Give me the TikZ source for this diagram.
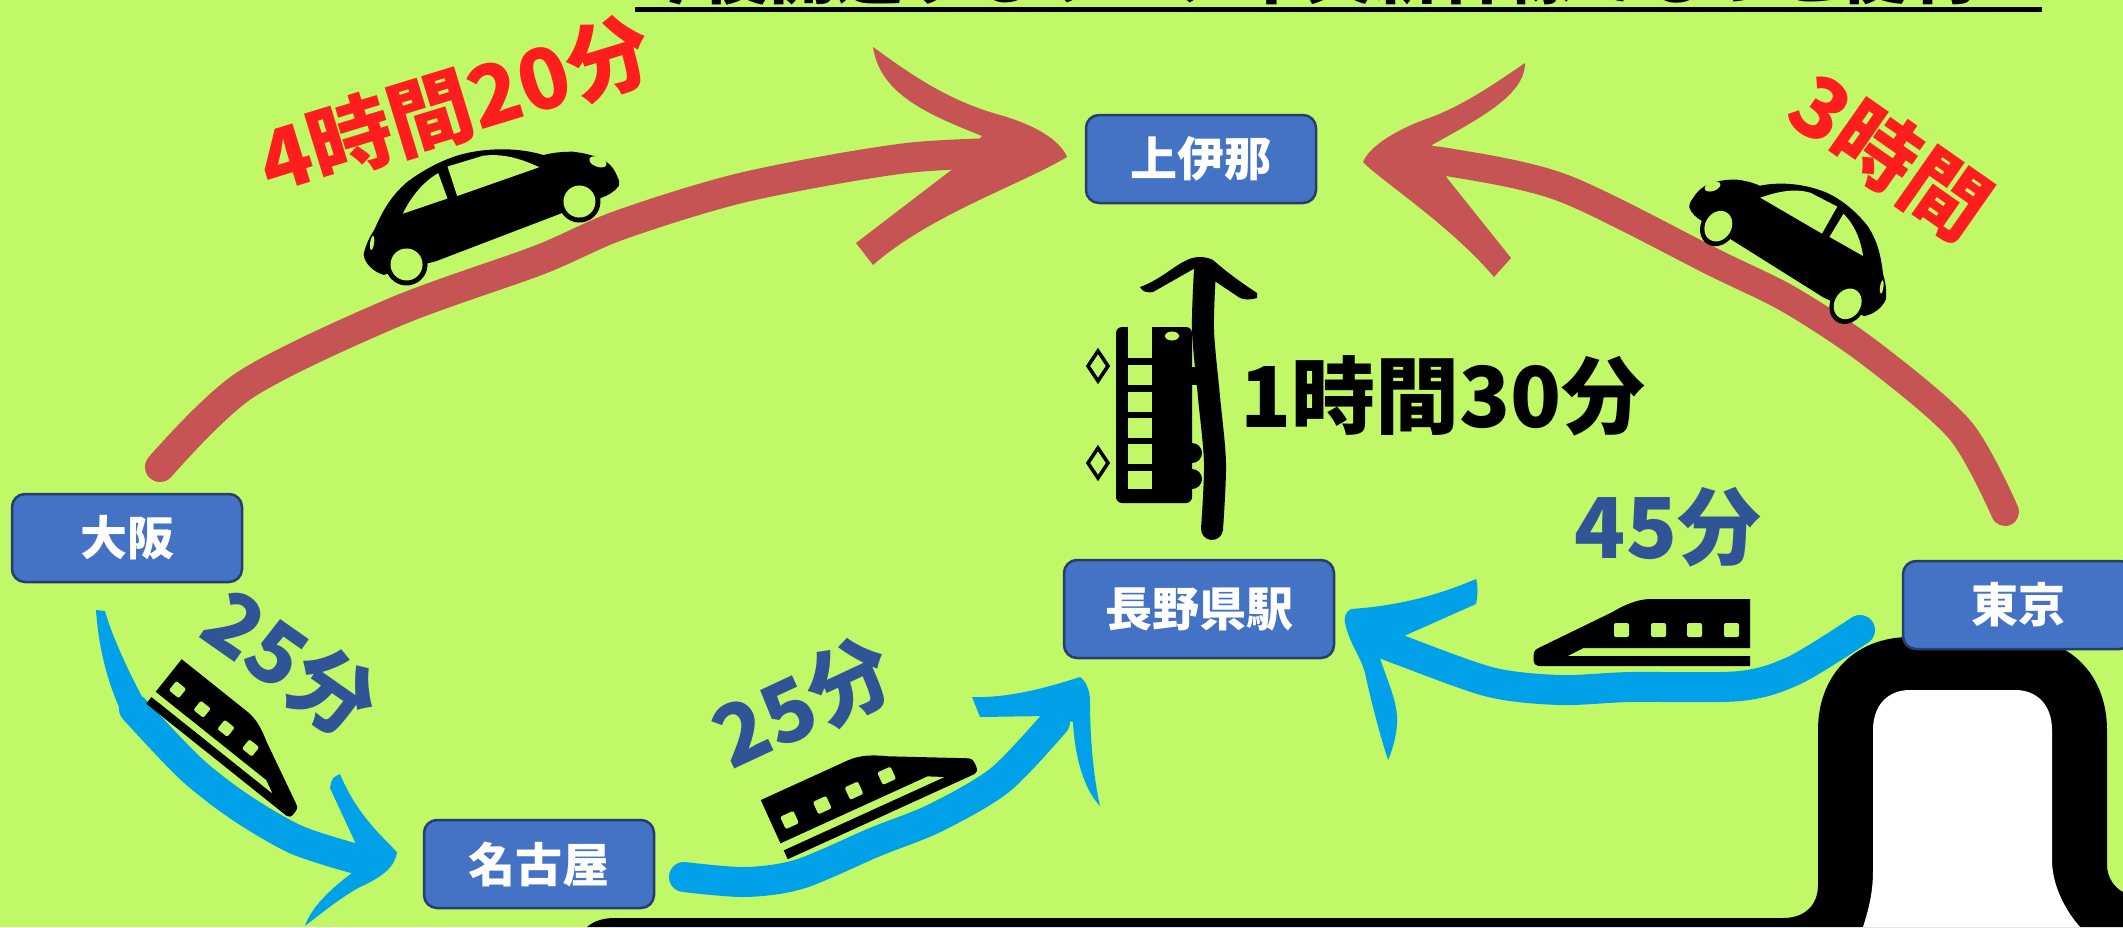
\documentclass[tikz,border=0pt]{standalone}
\usepackage{fontspec}
\setmainfont{Noto Sans CJK JP}
\definecolor{bgcol}{RGB}{193,248,103}
\definecolor{rcol}{RGB}{198,84,84}
\definecolor{bcol}{RGB}{0,161,233}
\definecolor{redtext}{RGB}{255,30,30}
\definecolor{bluetext}{RGB}{47,85,151}
\definecolor{boxfill}{RGB}{68,114,196}
\definecolor{boxline}{RGB}{38,62,110}
\tikzset{every picture/.style={x=1pt,y=-1pt}}
\tikzset{station/.style={rectangle,rounded corners=13,draw=boxline,fill=boxfill,line width=2.5,text=white,inner sep=0,minimum width=230,minimum height=88,font=\fontsize{47}{47}\selectfont\bfseries}}
\tikzset{annot/.style={inner sep=0,font=\fontsize{84}{84}\selectfont\bfseries}}
\tikzset{redline/.style={rcol,line width=30,line cap=round,line join=round}}
\tikzset{blueline/.style={bcol,line width=30,line cap=round,line join=round}}
\tikzset{pics/car/.style={code={
\begin{scope}[y=1pt]
\fill [black] (-117,-2) .. controls (-125,4) and (-131,14) .. (-129,24) .. controls (-124,32) and (-118,38) .. (-110,44)
  .. controls (-95,60) and (-82,70) .. (-64,77) .. controls (-48,82) and (-30,85) .. (-15,85) .. controls (5,86) and (45,78) .. (74,56)
  .. controls (85,55) and (95,52) .. (103,49) .. controls (115,43) and (125,36) .. (131,28) .. controls (135,22) and (136,16) .. (136,12)
  .. controls (137,7) and (136,3) .. (134,1) .. controls (128,-3) and (120,-4) .. (114,-4) -- (62,-5) -- (-63,-7) -- cycle;
\fill [black] (-92,0) circle (21);
\fill [black] (92,0) circle (21);
\fill [bgcol] (-92,0) circle (16);
\fill [bgcol] (92,0) circle (16);
\fill [bgcol] (-78,49) .. controls (-65,62) and (-48,72) .. (-31,75) -- (-31,48) -- cycle;
\fill [bgcol] (-20,78) -- (-21,47) -- (66,46) .. controls (50,62) and (35,72) .. (17,76) -- cycle;
\fill [bgcol,rotate around={-40:(123,31)}] (123,31) ellipse (9 and 5);
\fill [bgcol,rotate around={62:(-117,32)}] (-117,32) ellipse (7 and 2);
\end{scope}
}}}
\tikzset{pics/bullet/.style={code={
\begin{scope}[y=1pt]
\fill [black] (108.5,33.5) -- (10,33.5) .. controls (-5,33.5) and (-18,27) .. (-30,20) -- (-103,-15.5) .. controls (-108,-18) and (-108,-20) .. (-108,-27)
  .. controls (-108,-31) and (-106,-33.5) .. (-103,-33.5) -- (108.5,-33.5) -- (108.5,-23.5) -- (-74,-23.5) -- (-58,-15.5) -- (108.5,-15.5) -- cycle;
\fill [bgcol,rounded corners=2] (-27.5,9.5) rectangle (-12.5,-4.5);
\fill [bgcol,rounded corners=2] (9.5,9.5) rectangle (24.5,-4.5);
\fill [bgcol,rounded corners=2] (45.5,9.5) rectangle (60.5,-4.5);
\fill [bgcol,rounded corners=2] (82.5,9.5) rectangle (97.5,-4.5);
\end{scope}
}}}

\begin{document}
\begin{tikzpicture}
\useasboundingbox (0,0) rectangle (2123,927);
\fill [bgcol] (0,0) rectangle (2123,927);

% frame at the bottom right
\fill [black] (587,927) .. controls (595,920) and (605,918) .. (615,918) -- (1783,918) .. controls (1805,918) and (1818,905) .. (1818,885) -- (1818,730)
  .. controls (1818,675) and (1855,637) .. (1910,637) -- (2015,637) .. controls (2070,637) and (2107,675) .. (2107,730) -- (2107,865)
  .. controls (2107,878) and (2115,888) .. (2123,892) -- (2123,927) -- cycle;
\fill [white] (1863,927) .. controls (1870,905) and (1873,890) .. (1873,870) -- (1873,730) .. controls (1873,705) and (1888,690) .. (1910,690) -- (2015,690)
  .. controls (2037,690) and (2052,705) .. (2052,730) -- (2052,860) .. controls (2052,885) and (2065,910) .. (2080,927) -- cycle;

% title, cut off by the top edge
\node [anchor=base,inner sep=0,font=\fontsize{67}{67}\selectfont\bfseries] (title) at (1338.5,-2) {今後開通するリニア中央新幹線でもっと便利！};
\coordinate (ul1) at (635,9);
\coordinate (ul2) at (2042,9);
\draw [line width=5] (ul1) -- (ul2);

\coordinate (r1s) at (160,467);
\coordinate (r1t) at (1067,157);
\coordinate (r1u) at (873,47);
\coordinate (r1l) at (873,265);
\coordinate (r2s) at (2005,512);
\coordinate (r2t) at (1363,162);
\coordinate (r2u) at (1525,63);
\coordinate (r2l) at (1494,277);
\coordinate (b1s) at (96,610);
\coordinate (b1t) at (397,852);
\coordinate (b1u) at (340,774);
\coordinate (b1l) at (305,926);
\coordinate (b2s) at (684,877);
\coordinate (b2t) at (1080,677);
\coordinate (b2u) at (972,697);
\coordinate (b2l) at (1100,806);
\coordinate (b3s) at (1860,630);
\coordinate (b3t) at (1345,623);
\coordinate (b3u) at (1476,579);
\coordinate (b3l) at (1388,760);
\coordinate (k1s) at (1212,529);
\coordinate (k1t) at (1200,257);

% cars
\draw [redline] plot [smooth] coordinates {(r1s) (245,385) (395,312) (539,260) (620,225) (745,187) (907,158) (1040,152)};
\fill [rcol] (r1u) .. controls (905,70) and (945,100) .. (1000,115) .. controls (1035,125) and (1060,140) .. (r1t) .. controls (1020,185) and (930,215) .. (r1l)
  -- (856,243) -- (954,168) -- (982,136) .. controls (930,115) and (880,95) .. cycle;
\draw [redline,line width=28] plot [smooth] coordinates {(r2s) (1960,430) (1870,353) (1790,300) (1715,263) (1563,188) (1447,162) (1385,157)};
\fill [rcol] (r2u) .. controls (1500,80) and (1465,105) .. (1429,118) .. controls (1400,128) and (1370,145) .. (r2t) .. controls (1380,180) and (1450,225) .. (r2l)
  -- (1511,258) -- (1447,178) -- (1432,145) .. controls (1480,118) and (1525,95) .. cycle;
\pic [rotate=20] at (493,233) {car};
\pic [rotate=-31,xscale=-.82] at (1783,265) {car};

% bullet trains
\fill [bcol] (b1s) -- (105,611) .. controls (110,630) and (125,665) .. (143.5,699.5) -- (124.5,718.5) .. controls (105,680) and (98,640) .. cycle;
\draw [blueline] plot [smooth] coordinates {(134,709) (190,768) (240,807) (297,840) (360,860)};
\fill [bcol] (b1u) .. controls (332,778) .. (330,788) -- (355,842) -- (360,867) .. controls (335,885) and (312,905) .. (b1l) .. controls (325,910) and (345,895) .. (360,887)
  .. controls (380,878) and (395,868) .. (b1t) .. controls (375,830) and (355,810) .. cycle;
\draw [blueline] plot [smooth] coordinates {(b2s) (745,882) (800,874) (875,842) (935,818) (1000,780) (1055,722)};
\fill [bcol] (b2t) .. controls (1040,690) and (1005,698) .. (b2u) -- (980,717) -- (1047,716) -- (1073,722) .. controls (1074,745) and (1080,785) .. (b2l)
  .. controls (1092,770) and (1090,730) .. (1090,700) .. controls (1090,690) and (1085,680) .. cycle;
\draw [blueline] plot [smooth] coordinates {(b3s) (1795,670) (1740,686) (1630,687) (1560,690) (1490,682) (1400,650) (1375,640)};
\fill [bcol] (b3u) .. controls (1450,590) and (1410,605) .. (1351,609) .. controls (1345,612) and (1344,618) .. (b3t) .. controls (1350,645) and (1360,655) .. (1365,673)
  .. controls (1372,705) and (1380,735) .. (b3l) .. controls (1395,745) and (1398,725) .. (1397,715) .. controls (1395,695) and (1385,675) .. (1379,655) -- (1404,636)
  -- (1476,604) .. controls (1478,595) and (1478,585) .. cycle;
\pic [rotate=-38.6,xscale=-1,scale=.85] at (236,739) {bullet};
\pic [rotate=24.5,xscale=-1,scale=.97] at (870,786) {bullet};
\pic at (1641.5,632.5) {bullet};

% local train
\fill [black,rounded corners=6] (1116,327) rectangle (1192,503);
\fill [black] (1192,367) rectangle (1197,385);
\fill [black] (1192,453) circle (10);
\fill [black] (1192,479) circle (10);
\fill [bgcol] (1128,320) rectangle (1152,358);
\fill [bgcol] (1128,365) rectangle (1152,385);
\fill [bgcol] (1128,392) rectangle (1152,412);
\fill [bgcol] (1128,418) rectangle (1152,438);
\fill [bgcol] (1128,444) rectangle (1152,464);
\fill [bgcol] (1128,471) rectangle (1152,489);
\fill [bgcol] (1172,336) ellipse (7 and 4.5);
\draw [line width=3.5] (1098,351) -- (1108,366) -- (1098,381) -- (1088,366) -- cycle;
\draw [line width=3.5] (1098,448) -- (1108,463) -- (1098,478) -- (1088,463) -- cycle;
\draw [line width=22,line cap=round] plot [smooth] coordinates {(k1s) (1215,463) (1209,397) (1203,330) (1205,270)};
\fill [black] (1140,287) .. controls (1160,280) and (1175,265) .. (1187,260) .. controls (1195,256) and (1205,256) .. (1213,260)
  .. controls (1230,275) and (1245,285) .. (1257,293) -- (1257,298) .. controls (1250,300) and (1245,300) .. (1240,298) -- (1213,280) -- (1197,267) -- (1153,292) .. controls (1148,293) and (1142,292) .. cycle;

% times
\node [annot,text=redtext,rotate=17] (car1) at (455,105) {4時間20分};
\node [annot,text=redtext,rotate=-35] (car2) at (1891,156) {3時間};
\node [annot] (local) at (1443,396) {1時間30分};
\node [annot,text=bluetext] (sk3) at (1668,527) {45分};
\node [annot,text=bluetext,rotate=-35] (sk1) at (291,663) {25分};
\node [annot,text=bluetext,rotate=25] (sk2) at (803,703) {25分};

\node [station] (kamiina) at (1201,159) {上伊那};
\node [station] (osaka) at (127,538) {大阪};
\node [station] (nagoya) at (539,864) {名古屋};
\node [station,minimum width=270,minimum height=98] (nagano) at (1199,609) {長野県駅};
\node [station] (tokyo) at (2018,605) {東京};
\end{tikzpicture}
\end{document}
